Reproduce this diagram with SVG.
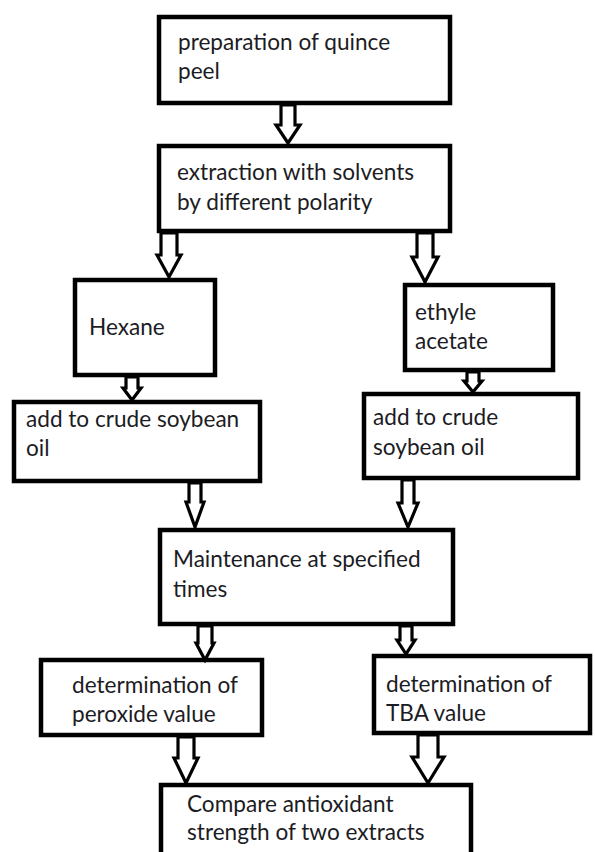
<svg xmlns="http://www.w3.org/2000/svg" width="595" height="852" viewBox="0 0 595 852">
<style>
.box{fill:#fff;stroke:#000;stroke-width:4.5}
.arr{fill:none;stroke:#000;stroke-width:3.2;stroke-linejoin:miter}
text{font-family:"Lato","Liberation Sans",sans-serif;font-size:22.6px;fill:#1c1c24}
</style>
<rect width="595" height="852" fill="#fff"/>
<g id="n1"><rect class="box" x="159" y="17" width="291" height="86"/><text x="178" y="50">preparation of quince</text><text x="178" y="79">peel</text></g>
<g id="n2"><rect class="box" x="159" y="146" width="291" height="85"/><text x="177" y="180">extraction with solvents</text><text x="177" y="210">by different polarity</text></g>
<g id="n3"><rect class="box" x="75" y="280" width="140" height="95"/><text x="89" y="335">Hexane</text></g>
<g id="n4"><rect class="box" x="405" y="285" width="148" height="85"/><text x="415" y="320">ethyle</text><text x="415" y="349">acetate</text></g>
<g id="n5"><rect class="box" x="14" y="402" width="246" height="79"/><text x="26" y="427">add to crude soybean</text><text x="26" y="456">oil</text></g>
<g id="n6"><rect class="box" x="364" y="394" width="214" height="84"/><text x="373" y="425">add to crude</text><text x="373" y="455">soybean oil</text></g>
<g id="n7"><rect class="box" x="160" y="530" width="293" height="94"/><text x="173" y="567">Maintenance at specified</text><text x="173" y="597">times</text></g>
<g id="n8"><rect class="box" x="41" y="660" width="221" height="75"/><text x="72" y="693">determination of</text><text x="72" y="722">peroxide value</text></g>
<g id="n9"><rect class="box" x="374" y="656" width="216" height="77"/><text x="386" y="692">determination of</text><text x="386" y="721">TBA value</text></g>
<g id="n10"><rect class="box" x="161" y="785" width="310" height="80"/><text x="187" y="812">Compare antioxidant</text><text x="187" y="840">strength of two extracts</text></g>
<g id="connectors">
<polygon class="arr" points="281,105 295,105 295,125 300,125 288,143 276,125 281,125"/>
<polygon class="arr" points="161,233 177,233 177,255 181,255 169,277 157,255 161,255"/>
<polygon class="arr" points="417,233 433,233 433,257 438,257 425,282 412,257 417,257"/>
<polygon class="arr" points="126,377 138,377 138,388 141,388 132,400 123,388 126,388"/>
<polygon class="arr" points="467,372 479,372 479,381 482,381 473,392 464,381 467,381"/>
<polygon class="arr" points="189,483 201,483 201,502 204,502 195,527 186,502 189,502"/>
<polygon class="arr" points="402,480 414,480 414,503 418,503 408,527 398,503 402,503"/>
<polygon class="arr" points="198,626 212,626 212,643 214,643 205,660 196,643 198,643"/>
<polygon class="arr" points="400,626 412,626 412,640 415,640 406,654 397,640 400,640"/>
<polygon class="arr" points="178,737 194,737 194,758 198,758 186,783 174,758 178,758"/>
<polygon class="arr" points="418,735 438,735 438,757 444,757 428,783 412,757 418,757"/>
</g>
</svg>
